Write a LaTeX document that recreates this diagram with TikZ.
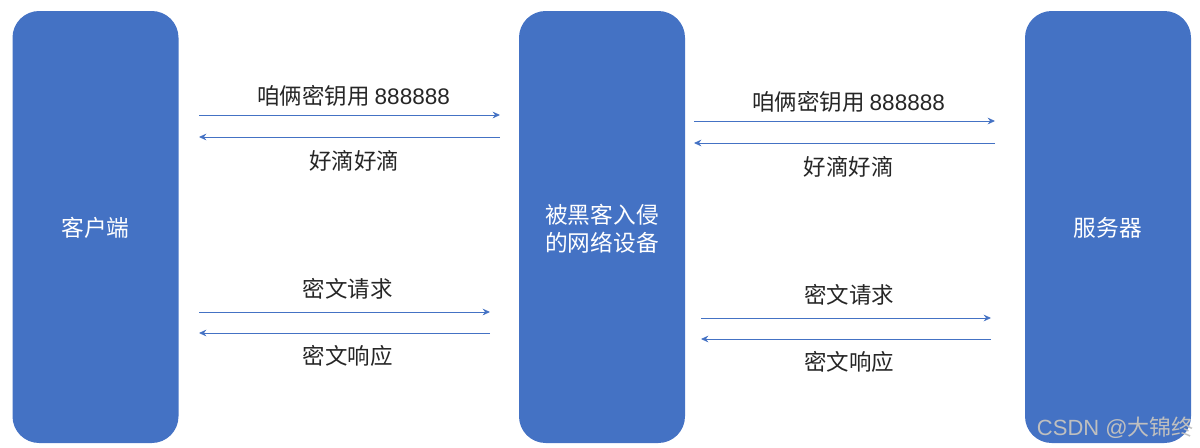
\documentclass[tikz,border=0pt]{standalone}
\usepackage{fontspec}
\setmainfont{Noto Sans CJK SC}
\newfontfamily\latinf{Liberation Sans}
\usetikzlibrary{arrows.meta}
\newdimen\pxu \pxu=0.75pt
\definecolor{blockblue}{HTML}{4472C4}
\tikzset{
 block/.style={fill=blockblue,draw=none,rounded corners=20pt,minimum width=166\pxu,minimum height=432\pxu,inner sep=0pt,text=white,font=\fontsize{22.7\pxu}{28\pxu}\selectfont,align=center},
 blocktext/.style={text=white,font=\fontsize{22.7\pxu}{28\pxu}\selectfont,align=center,inner sep=0pt},
 lab/.style={text=black!85,font=\fontsize{22.5\pxu}{26\pxu}\selectfont,inner sep=0pt},
 link/.style={draw=blockblue,line width=0.9\pxu,-{Stealth[length=5.5pt,width=5pt]}},
}
\begin{document}
\begin{tikzpicture}[x=\pxu,y=-\pxu]
\useasboundingbox (0,0) rectangle (1200,447);
\node[block] (c) at (95.5,227) {};
\node[block] (m) at (602,227) {};
\node[block] (s) at (1108,227) {};
\node[blocktext] (ct) at (95.5,228) {客户端};
\node[blocktext] (mt) at (602,229) {被黑客入侵\\的网络设备};
\node[blocktext] (st) at (1108,228) {服务器};
\coordinate (a1) at (199,115); \coordinate (a2) at (500,115);
\coordinate (b1) at (500,137); \coordinate (b2) at (199,137);
\coordinate (c1) at (199,312); \coordinate (c2) at (490,312);
\coordinate (d1) at (490,333); \coordinate (d2) at (199,333);
\coordinate (e1) at (694,121); \coordinate (e2) at (995,121);
\coordinate (f1) at (995,143); \coordinate (f2) at (694,143);
\coordinate (g1) at (701,318); \coordinate (g2) at (991,318);
\coordinate (h1) at (991,339); \coordinate (h2) at (701,339);
\draw[link] (a1)--(a2); \draw[link] (b1)--(b2); \draw[link] (c1)--(c2); \draw[link] (d1)--(d2);
\draw[link] (e1)--(e2); \draw[link] (f1)--(f2); \draw[link] (g1)--(g2); \draw[link] (h1)--(h2);
\node[lab] (t1) at (353.5,95.5) {咱俩密钥用 {\latinf 888888}};
\node[lab] (t2) at (354,161) {好滴好滴};
\node[lab] (t3) at (347.5,288.5) {密文请求};
\node[lab] (t4) at (347.5,356) {密文响应};
\node[lab] (t5) at (848.5,101.5) {咱俩密钥用 {\latinf 888888}};
\node[lab] (t6) at (848.5,167) {好滴好滴};
\node[lab] (t7) at (849,294.5) {密文请求};
\node[lab] (t8) at (849,362) {密文响应};
\node[text=black!25,font=\fontsize{22\pxu}{26\pxu}\selectfont,inner sep=0pt,anchor=east] (wm) at (1194,428) {{\latinf CSDN @}大锦终};
\end{tikzpicture}
\end{document}
